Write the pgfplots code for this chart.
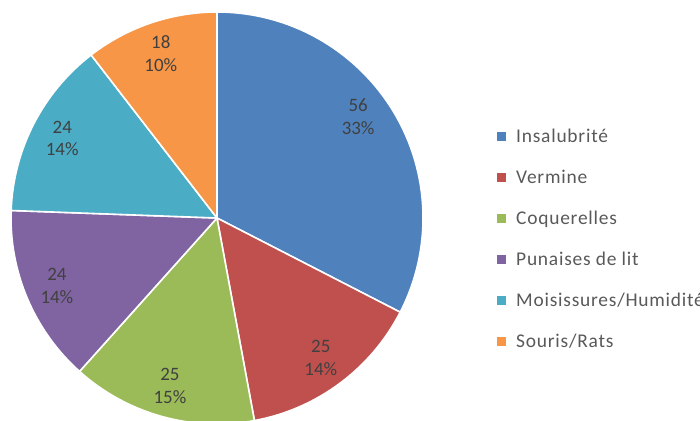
\documentclass[border=0pt]{standalone}
\usepackage{fontspec}
\setmainfont{Carlito}
\newfontfamily\legfamily[LetterSpace=4]{Carlito}
\usepackage{pgfplots}
\usepackage{pgfplotstable}
\pgfplotsset{compat=1.18}
\definecolor{c0}{HTML}{4F81BD}
\definecolor{c1}{HTML}{C0504D}
\definecolor{c2}{HTML}{9BBB59}
\definecolor{c3}{HTML}{8064A2}
\definecolor{c4}{HTML}{4BACC6}
\definecolor{c5}{HTML}{F79646}
\definecolor{labgray}{HTML}{404040}
\definecolor{leggray}{HTML}{595959}
\pgfplotstableread[col sep=comma]{
label,value,pct,lshift
Insalubrité,56,33,4.4
Vermine,25,14,0
Coquerelles,25,15,0
Punaises de lit,24,14,0
Moisissures/Humidité,24,14,0
Souris/Rats,18,10,0
}\piedata
\newcommand\labfont{\fontsize{19}{23}\selectfont}
\newcommand\legfont{\legfamily\fontsize{19.5}{23}\selectfont}
\begin{document}
\xdef\total{0}%
\foreach \i in {0,...,5}{\pgfplotstablegetelem{\i}{value}\of\piedata\pgfmathparse{\total+\pgfplotsretval}\xdef\total{\pgfmathresult}}%
\begin{tikzpicture}
\begin{axis}[x=1bp, y=1bp, y dir=reverse, xmin=0, xmax=700, ymin=0, ymax=420, hide axis, clip=false]
\gdef\astart{90}
\pgfplotsforeachungrouped \i in {0,...,5}{%
  \pgfplotstablegetelem{\i}{value}\of\piedata \let\sval\pgfplotsretval
  \pgfplotstablegetelem{\i}{pct}\of\piedata \let\spct\pgfplotsretval
  \pgfplotstablegetelem{\i}{label}\of\piedata \let\slab\pgfplotsretval
  \pgfplotstablegetelem{\i}{lshift}\of\piedata \let\sshift\pgfplotsretval
  \pgfmathsetmacro\aend{\astart-360/\total*\sval}%
  \pgfmathsetmacro\amid{(\astart+\aend)/2+\sshift}%
  \pgfmathsetmacro\ly{136.5+41*\i}%
  \edef\cmd{%
    \noexpand\fill[c\i, draw=white, line width=1.6bp, line join=round] (axis cs:217,218) -- ++(\astart:206bp) arc[start angle=\astart, end angle=\aend, radius=206bp] -- cycle;
    \noexpand\node[font=\noexpand\labfont, text=labgray, align=center, inner sep=0pt] at ([shift={(\amid:174bp)}]axis cs:217,218) {\sval\noexpand\\\spct\noexpand\%};
    \noexpand\fill[c\i] (axis cs:497,\ly-4.5) rectangle (axis cs:505.5,\ly+4.5);
    \noexpand\node[font=\noexpand\legfont, text=leggray, anchor=base west, inner sep=0pt] at (axis cs:516,\ly+6) {\slab};
  }%
  \cmd
  \global\let\astart\aend
}
\end{axis}
\pgfresetboundingbox
\path[use as bounding box] (current axis.south west) rectangle (current axis.north east);
\end{tikzpicture}
\end{document}
